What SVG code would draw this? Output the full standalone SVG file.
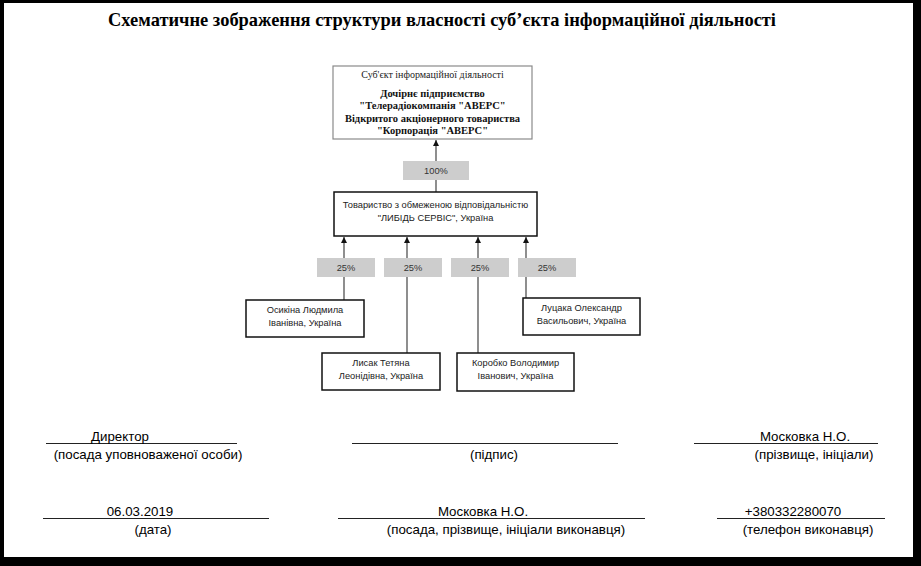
<svg xmlns="http://www.w3.org/2000/svg" width="921" height="566" viewBox="0 0 921 566">
<style>
.title{font-family:"Liberation Serif","Times New Roman",serif;font-weight:bold;font-size:19px;fill:#000}
.serif{font-family:"Liberation Serif","Times New Roman",serif;font-size:10px;fill:#222}
.serifb{font-family:"Liberation Serif","Times New Roman",serif;font-size:10.5px;font-weight:bold;fill:#111}
.sans{font-family:"Liberation Sans",Arial,sans-serif;font-size:9.3px;fill:#222}
.pct{font-family:"Liberation Sans",Arial,sans-serif;font-size:9.3px;fill:#333}
.foot{font-family:"Liberation Sans",Arial,sans-serif;font-size:13.3px;fill:#000}
.box{fill:#fff;stroke:#111;stroke-width:1.5}
.topbox{fill:#fff;stroke:#8a8a8a;stroke-width:1.2}
.lbl{fill:#cdcdcd;stroke:none}
.conn{stroke:#444;stroke-width:1.2;fill:none}
.rule{stroke:#222;stroke-width:1}
</style>
<defs>
<marker id="arr" viewBox="0 0 10 10" refX="10" refY="5" markerWidth="6" markerHeight="6" orient="auto" markerUnits="userSpaceOnUse">
<path d="M0,0 L10,5 L0,10 z" fill="#111"/>
</marker>
</defs>
<rect x="0" y="0" width="921" height="566" fill="#fff"/>
<rect x="0" y="0" width="921" height="3" fill="#000"/>
<rect x="0" y="0" width="4" height="566" fill="#000"/>
<rect x="913" y="0" width="8" height="566" fill="#000"/>
<rect x="0" y="557" width="921" height="9" fill="#000"/>

<text class="title" x="442" y="26" text-anchor="middle" textLength="668" lengthAdjust="spacingAndGlyphs">Схематичне зображення структури власності суб’єкта інформаційної діяльності</text>

<g id="connectors">
<line class="conn" x1="436" y1="193" x2="436" y2="140" marker-end="url(#arr)"/>
<line class="conn" x1="344" y1="300" x2="344" y2="237" marker-end="url(#arr)"/>
<line class="conn" x1="407" y1="353" x2="407" y2="237" marker-end="url(#arr)"/>
<line class="conn" x1="478" y1="353" x2="478" y2="237" marker-end="url(#arr)"/>
<line class="conn" x1="526" y1="298" x2="526" y2="237" marker-end="url(#arr)"/>
<rect id="lbl100" class="lbl" x="403" y="161" width="66" height="19"/>
<text class="pct" x="436" y="173.5" text-anchor="middle">100%</text>
<rect class="lbl" x="317" y="258" width="58" height="19"/>
<text class="pct" x="346" y="270.5" text-anchor="middle">25%</text>
<rect class="lbl" x="384" y="258" width="58" height="19"/>
<text class="pct" x="413" y="270.5" text-anchor="middle">25%</text>
<rect class="lbl" x="451" y="258" width="58" height="19"/>
<text class="pct" x="480" y="270.5" text-anchor="middle">25%</text>
<rect class="lbl" x="518" y="258" width="58" height="19"/>
<text class="pct" x="547" y="270.5" text-anchor="middle">25%</text>
</g>

<g id="subject">
<rect class="topbox" x="333" y="66" width="199" height="73"/>
<text class="serif" x="432.5" y="77.5" text-anchor="middle">Суб'єкт інформаційної діяльності</text>
<text class="serifb" x="432.5" y="96.5" text-anchor="middle">Дочірнє підприємство</text>
<text class="serifb" x="432.5" y="109" text-anchor="middle">"Телерадіокомпанія "АВЕРС"</text>
<text class="serifb" x="432.5" y="121.5" text-anchor="middle">Відкритого акціонерного товариства</text>
<text class="serifb" x="432.5" y="134" text-anchor="middle">"Корпорація "АВЕРС"</text>
</g>

<g id="llc">
<rect class="box" x="334" y="192" width="203" height="44"/>
<text class="sans" x="435.5" y="208" text-anchor="middle">Товариство з обмеженою відповідальністю</text>
<text class="sans" x="435.5" y="221" text-anchor="middle">"ЛИБІДЬ СЕРВІС", Україна</text>
</g>

<g id="osykina">
<rect class="box" x="246" y="300" width="118" height="37"/>
<text class="sans" x="305" y="313" text-anchor="middle">Осикіна Людмила</text>
<text class="sans" x="305" y="325.5" text-anchor="middle">Іванівна, Україна</text>
</g>

<g id="lysak">
<rect class="box" x="322" y="353" width="118" height="37"/>
<text class="sans" x="381" y="366" text-anchor="middle">Лисак Тетяна</text>
<text class="sans" x="381" y="378.5" text-anchor="middle">Леонідівна, Україна</text>
</g>

<g id="korobko">
<rect class="box" x="457" y="353" width="117" height="38"/>
<text class="sans" x="515.5" y="366" text-anchor="middle">Коробко Володимир</text>
<text class="sans" x="515.5" y="379" text-anchor="middle">Іванович, Україна</text>
</g>

<g id="lutsaka">
<rect class="box" x="523" y="298" width="117" height="37"/>
<text class="sans" x="581.5" y="310.5" text-anchor="middle">Луцака Олександр</text>
<text class="sans" x="581.5" y="323.5" text-anchor="middle">Васильович, Україна</text>
</g>

<g id="signatures">
<line class="rule" x1="46" y1="443.5" x2="237" y2="443.5"/>
<text class="foot" x="120" y="441" text-anchor="middle">Директор</text>
<text class="foot" x="148" y="459" text-anchor="middle">(посада уповноваженої особи)</text>
<line class="rule" x1="352" y1="443.5" x2="618" y2="443.5"/>
<text class="foot" x="494" y="459" text-anchor="middle">(підпис)</text>
<line class="rule" x1="694" y1="443.5" x2="878" y2="443.5"/>
<text class="foot" x="805" y="441" text-anchor="middle">Московка Н.О.</text>
<text class="foot" x="814" y="459" text-anchor="middle">(прізвище, ініціали)</text>
<line class="rule" x1="43" y1="518.5" x2="269" y2="518.5"/>
<text class="foot" x="140" y="516" text-anchor="middle">06.03.2019</text>
<text class="foot" x="153" y="534" text-anchor="middle">(дата)</text>
<line class="rule" x1="338" y1="518.5" x2="645" y2="518.5"/>
<text class="foot" x="483" y="516" text-anchor="middle">Московка Н.О.</text>
<text class="foot" x="506" y="534" text-anchor="middle">(посада, прізвище, ініціали виконавця)</text>
<line class="rule" x1="717" y1="518.5" x2="885" y2="518.5"/>
<text class="foot" x="793" y="516" text-anchor="middle">+380332280070</text>
<text class="foot" x="808" y="534" text-anchor="middle">(телефон виконавця)</text>
</g>
</svg>
